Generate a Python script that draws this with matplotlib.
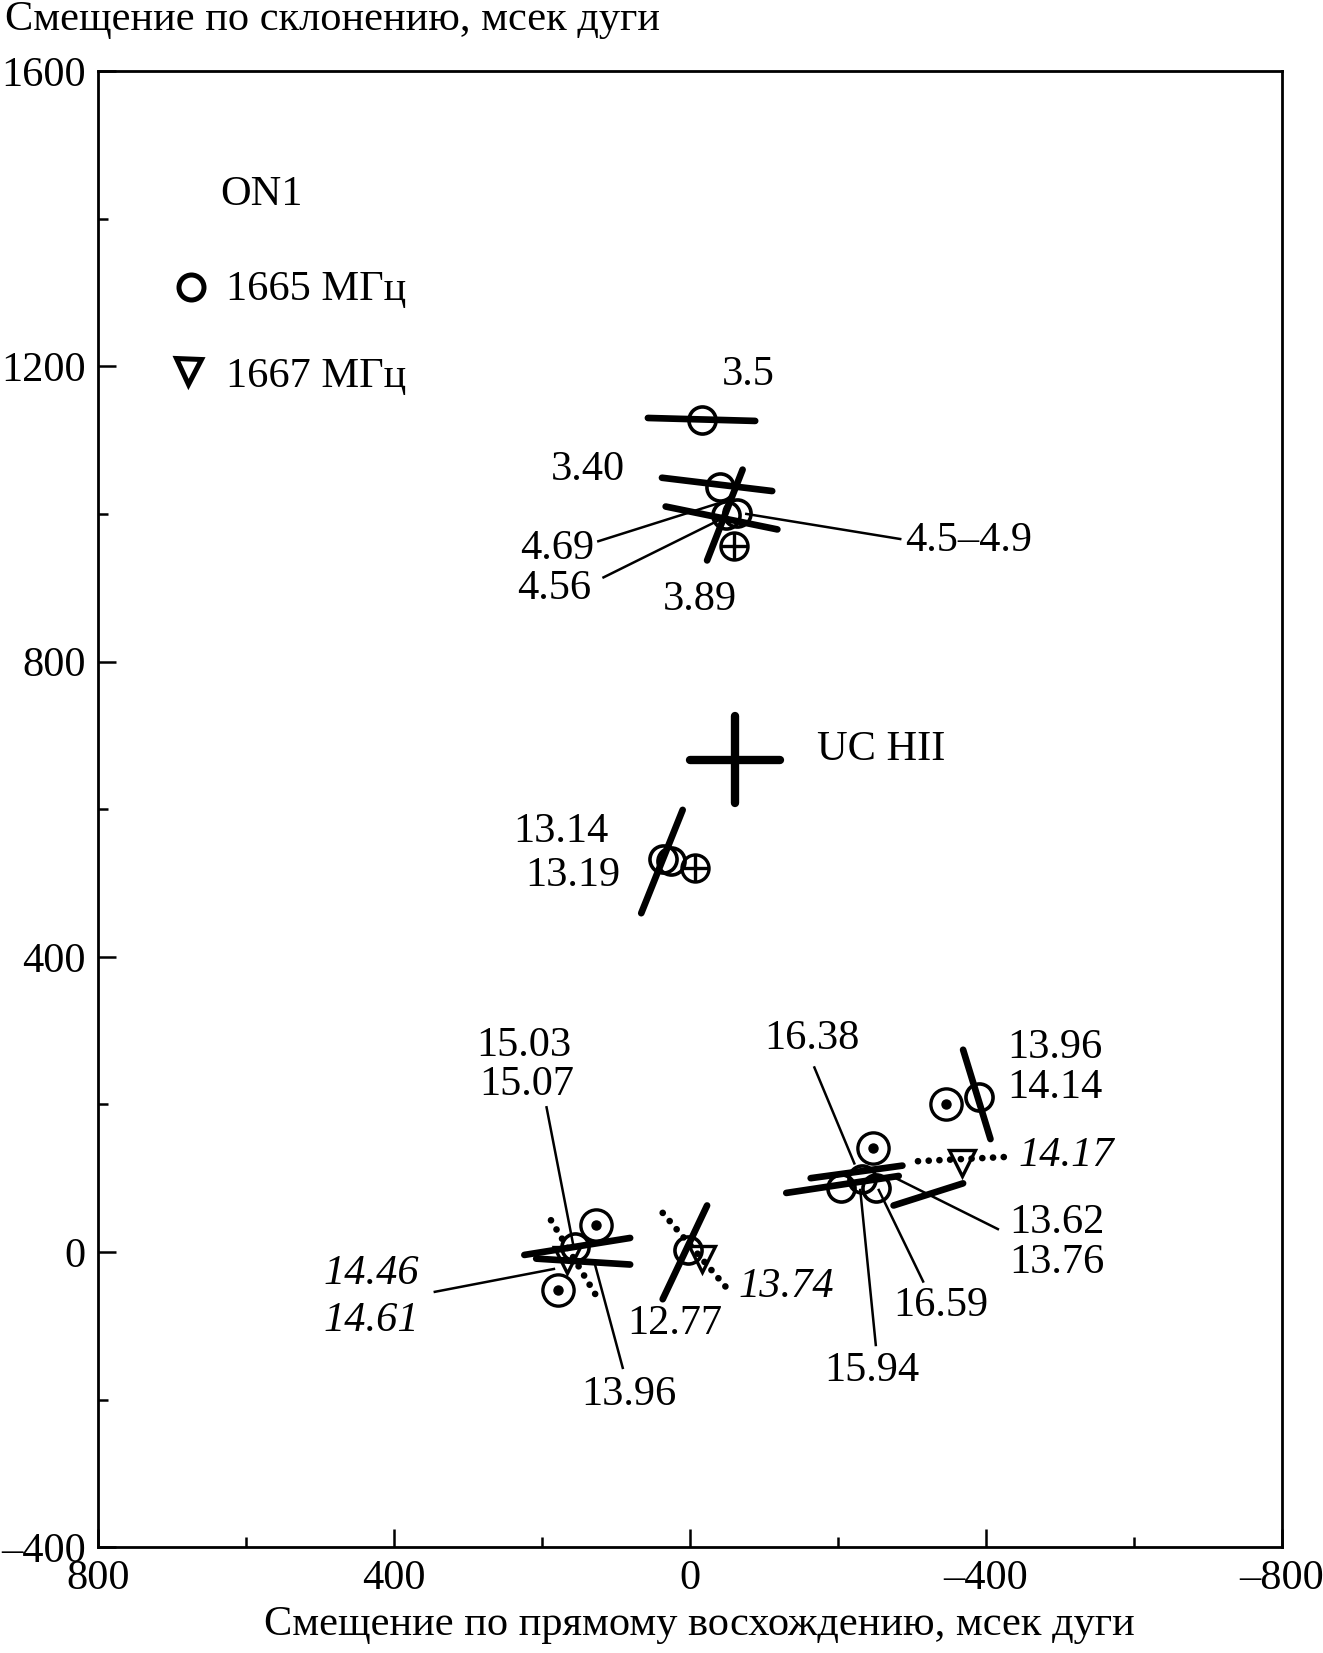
import matplotlib
matplotlib.use("Agg")
import matplotlib.pyplot as plt
from matplotlib.ticker import MultipleLocator, FuncFormatter

plt.rcParams['font.family'] = ['Liberation Serif', 'DejaVu Serif']

# ---------------- data (mas) ----------------
# open circles (1665 MHz)
circ_x = [-16, -41, -48, -63, 37, 26, 155, 3, -204, -232, -251, -391]
circ_y = [1127, 1036, 999, 1001, 533, 530, 7, 3, 87, 99, 87, 210]
# dotted circles
dotc_x = [127, 178, -247, -346]
dotc_y = [37, -51, 141, 201]
# circles with plus
plusc_x = [-60, -7]
plusc_y = [957, 520]
# triangles (1667 MHz)
tri_x = [167, -16, -368]
tri_y = [-11, -9, 121]

# solid bars (endpoints)
bar_x0 = [57, 38, 33, -71, 10, 224, 208, -23, -130, -163, -275, -369]
bar_y0 = [1130, 1049, 1010, 1060, 599, -4, -9, 63, 80, 100, 63, 274]
bar_x1 = [-88, -111, -118, -23, 66, 81, 81, 37, -282, -287, -369, -406]
bar_y1 = [1126, 1031, 979, 937, 459, 19, -17, -64, 103, 117, 93, 153]

# dotted bars (1667 MHz)
dbar_x0 = [188, 37, -308]
dbar_y0 = [43, 53, 123]
dbar_x1 = [127, -48, -432]
dbar_y1 = [-59, -47, 129]

# UC HII cross
uc_x = -61
uc_y = 667
uc_dx = 61
uc_dy = 59

# leader lines
lead_x0 = [124, 117, -284, 194, 345, 91, -168, -416, -315, -251]
lead_y0 = [963, 914, 966, 196, -54, -157, 250, 31, -40, -126]
lead_x1 = [-37, -48, -76, 158, 184, 128, -222, -272, -255, -230]
lead_y1 = [1014, 996, 1000, 10, -23, -19, 120, 103, 84, 84]

# labels
lab_text = ["3.5", "3.40", "4.69", "4.56", "3.89", "4.5–4.9", "UC HII",
            "13.14", "13.19", "15.03", "15.07", "14.46", "14.61", "13.96",
            "12.77", "13.74", "16.38", "13.96", "14.14", "14.17", "13.62",
            "13.76", "16.59", "15.94"]
lab_x = [-78, 138, 180, 184, -13, -376, -258, 174, 158, 225, 221, 431, 431,
         83, 20, -130, -165, -493, -493, -508, -496, -496, -339, -245]
lab_y = [1189, 1060, 953, 899, 884, 964, 681, 570, 510, 280, 227, -30, -93,
         -193, -97, -47, 289, 277, 223, 131, 39, -14, -73, -161]
lab_italic = [False, False, False, False, False, False, False, False, False,
              False, False, True, True, False, False, True, False, False,
              False, True, False, False, False, False]

xticks = [800, 400, 0, -400, -800]
yticks = [-400, 0, 400, 800, 1200, 1600]

# ---------------- figure ----------------
fig = plt.figure(figsize=(13.23, 16.53), dpi=100)
ax = fig.add_axes([0.0742, 0.064, 0.969 - 0.0742, 0.957 - 0.064])
ax.set_xlim(800, -800)
ax.set_ylim(-400, 1600)

FS = 30.5
MS = 19.5

for x0, y0, x1, y1 in zip(bar_x0, bar_y0, bar_x1, bar_y1):
    ax.plot([x0, x1], [y0, y1], color='black', lw=4.8, solid_capstyle='round', zorder=3)

for x0, y0, x1, y1 in zip(dbar_x0, dbar_y0, dbar_x1, dbar_y1):
    ax.plot([x0, x1], [y0, y1], color='black', lw=4.8, linestyle=(0, (0.01, 1.6)),
            dash_capstyle='round', zorder=3)

for x0, y0, x1, y1 in zip(lead_x0, lead_y0, lead_x1, lead_y1):
    ax.plot([x0, x1], [y0, y1], color='black', lw=1.8, zorder=2)

ax.plot([uc_x - uc_dx, uc_x + uc_dx], [uc_y, uc_y], color='black', lw=6.0,
        solid_capstyle='round', zorder=3)
ax.plot([uc_x, uc_x], [uc_y - uc_dy, uc_y + uc_dy], color='black', lw=6.0,
        solid_capstyle='round', zorder=3)

ax.plot(circ_x, circ_y, 'o', ms=MS, mfc='none', mec='black', mew=2.6, zorder=4)
ax.plot(dotc_x, dotc_y, 'o', ms=MS + 3, mfc='none', mec='black', mew=2.4, zorder=4)
ax.plot(dotc_x, dotc_y, 'o', ms=6.5, mfc='black', mec='black', zorder=4)
ax.plot(plusc_x, plusc_y, 'o', ms=MS, mfc='none', mec='black', mew=2.4, zorder=4)
ax.plot(plusc_x, plusc_y, '+', ms=MS, mec='black', mew=2.4, zorder=4)
ax.plot(tri_x, tri_y, 'v', ms=MS - 1, mfc='none', mec='black', mew=2.4, zorder=4)

for t, x, y, it in zip(lab_text, lab_x, lab_y, lab_italic):
    ax.text(x, y, t, fontsize=FS, ha='center', va='center',
            style='italic' if it else 'normal', zorder=5)

# legend block
ax.text(0.103, 0.916, "ON1", transform=ax.transAxes, fontsize=FS, ha='left', va='center')
ax.plot([0.078], [0.854], 'o', transform=ax.transAxes, ms=18, mfc='none', mec='black', mew=3.6)
ax.text(0.108, 0.852, "1665 МГц", transform=ax.transAxes, fontsize=FS, ha='left', va='center')
ax.plot([0.076], [0.797], 'v', transform=ax.transAxes, ms=18, mfc='none', mec='black', mew=3.6)
ax.text(0.108, 0.793, "1667 МГц", transform=ax.transAxes, fontsize=FS, ha='left', va='center')

# axes styling
for side in ['top', 'right', 'left', 'bottom']:
    ax.spines[side].set_linewidth(2.0)
ax.set_xticks(xticks)
ax.set_yticks(yticks)
ax.xaxis.set_minor_locator(MultipleLocator(200))
ax.yaxis.set_minor_locator(MultipleLocator(200))
fmt = FuncFormatter(lambda v, p: ("–%d" % abs(v)) if v < 0 else "%d" % v)
ax.xaxis.set_major_formatter(fmt)
ax.yaxis.set_major_formatter(fmt)
ax.tick_params(which='both', direction='in', width=1.8, labelsize=FS,
               top=False, right=False)
ax.tick_params(which='major', length=13, pad=9)
ax.tick_params(which='minor', length=7)

fig.text(0.004, 0.988, "Смещение по склонению, мсек дуги", fontsize=FS,
         ha='left', va='center')
fig.text(0.529, 0.017, "Смещение по прямому восхождению, мсек дуги", fontsize=FS,
         ha='center', va='center')

fig.savefig("out.png", dpi=100)
